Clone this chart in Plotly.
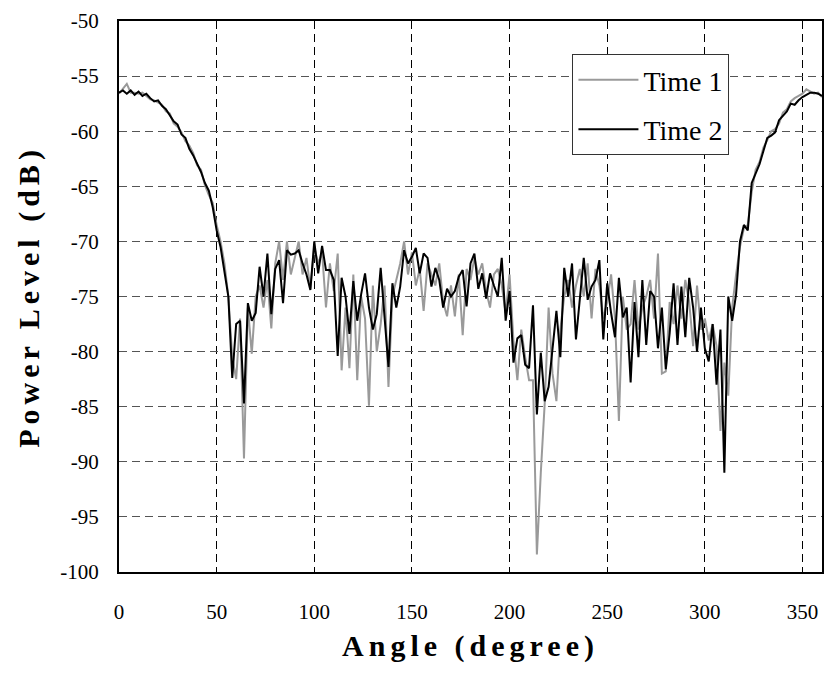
import plotly.graph_objects as go

angles = list(range(0, 361, 2))

time1 = [
    -56.6, -56.2, -55.7, -56.5, -56.5, -56.6, -56.5, -56.8, -57.1, -57.2,
    -57.4, -57.6, -58.2, -58.4, -59.3, -59.6, -60.1, -60.9, -61.3, -62.0,
    -63.1, -63.5, -64.9, -65.8, -66.5, -68.5, -70.0, -72.0, -75.0, -80.5,
    -82.5, -77.0, -89.7, -76.0, -80.2, -75.0, -74.0, -76.0, -73.5, -77.9,
    -72.0, -70.0, -73.5, -70.0, -73.0, -71.5, -70.0, -73.0, -71.5, -74.3,
    -70.5, -72.0, -71.0, -76.0, -72.0, -74.5, -71.1, -81.7, -76.0, -81.5,
    -73.0, -82.6, -75.0, -77.0, -84.9, -74.0, -80.0, -77.5, -74.0, -83.2,
    -75.0, -73.5, -72.0, -70.0, -73.0, -71.0, -74.0, -72.5, -76.3, -72.0,
    -73.0, -74.0, -72.0, -75.5, -76.8, -74.0, -76.8, -73.0, -78.5, -72.5,
    -73.5, -71.5, -73.0, -72.0, -74.5, -76.0, -73.0, -72.5, -74.0, -76.5,
    -73.0, -79.0, -82.6, -78.0, -80.5, -82.6, -82.6, -98.4, -91.0, -84.7,
    -76.0, -82.0, -84.5, -78.0, -75.0, -73.5, -76.0, -74.0, -72.5, -75.0,
    -72.0, -77.0, -72.5, -74.0, -77.0, -75.5, -73.0, -77.0, -86.3, -75.0,
    -78.0, -77.5, -73.5, -78.0, -76.0, -75.0, -73.5, -77.0, -71.1, -82.0,
    -81.8, -75.5, -77.5, -74.0, -77.0, -73.5, -75.5, -79.5, -74.0, -78.0,
    -77.0, -79.0, -77.5, -79.5, -87.2, -81.0, -84.0, -76.0, -73.0, -70.5,
    -68.8, -68.5, -65.5, -63.5, -62.8, -61.5, -60.8, -60.0, -59.8, -59.3,
    -58.3, -58.0, -57.3, -57.0, -56.8, -56.6, -56.2, -56.4, -56.6, -56.5,
    -56.9,
]

time2 = [
    -56.5, -56.3, -56.6, -56.3, -56.7, -56.4, -56.8, -56.6, -57.0, -57.3,
    -57.2, -57.7, -58.0, -58.5, -59.1, -59.4, -60.3, -60.6, -61.6, -62.2,
    -62.9, -63.7, -64.7, -65.4, -66.9, -69.0, -70.5, -72.6, -75.0, -82.4,
    -77.5, -77.2, -84.7, -75.6, -77.2, -76.5, -72.3, -75.0, -71.1, -76.6,
    -72.5, -71.7, -75.6, -70.8, -71.2, -71.1, -70.8, -72.0, -73.0, -74.4,
    -70.0, -72.9, -70.4, -72.6, -72.6, -73.5, -80.4, -73.3, -75.0, -78.4,
    -73.6, -77.2, -74.8, -72.9, -76.0, -78.0, -76.6, -72.4, -77.2, -81.4,
    -73.8, -76.0, -74.1, -70.8, -72.0, -71.4, -70.6, -72.9, -71.1, -71.5,
    -74.1, -72.4, -73.5, -76.0, -74.3, -75.0, -74.5, -73.2, -72.6, -75.9,
    -72.0, -71.1, -74.3, -72.9, -75.2, -72.9, -74.0, -75.0, -71.5, -77.2,
    -74.5, -81.0, -78.8, -78.5, -81.2, -81.5, -75.8, -85.7, -80.1, -84.5,
    -83.2, -80.0, -76.3, -80.5, -72.4, -75.0, -72.0, -78.9, -75.0, -71.5,
    -75.3, -74.1, -73.5, -71.7, -78.9, -73.8, -76.5, -78.7, -73.3, -76.9,
    -76.0, -82.8, -75.5, -80.5, -73.5, -79.4, -74.5, -75.0, -79.7, -76.0,
    -81.6, -78.3, -73.8, -79.4, -74.1, -78.7, -73.3, -76.0, -80.0, -76.0,
    -79.7, -80.9, -77.5, -83.0, -78.0, -91.0, -75.0, -77.2, -74.8, -70.0,
    -68.5, -69.0, -64.7, -63.8, -63.0, -61.8, -60.6, -60.4, -60.1, -59.0,
    -58.6, -58.2, -57.5, -57.6, -57.2, -56.9, -56.7, -56.5, -56.5, -56.6,
    -56.8,
]

x_ticks = [0, 50, 100, 150, 200, 250, 300, 350]
y_ticks = [-100, -95, -90, -85, -80, -75, -70, -65, -60, -55, -50]

FONT = "Liberation Serif"

fig = go.Figure()
fig.add_trace(go.Scatter(x=angles, y=time1, mode="lines", name="Time 1",
                         legendgroup="a",
                         line=dict(color="#9a9a9a", width=2)))
fig.add_trace(go.Scatter(x=angles, y=time2, mode="lines", name="Time 2",
                         legendgroup="b",
                         line=dict(color="#000000", width=2)))

fig.update_layout(
    width=829, height=680,
    margin=dict(l=119, r=5, t=21, b=108),
    paper_bgcolor="white", plot_bgcolor="white",
    font=dict(family=FONT, size=21, color="black"),
    showlegend=True,
    legend=dict(x=0.645, y=0.94, xanchor="left", yanchor="top",
                bgcolor="white", bordercolor="#333333", borderwidth=1,
                font=dict(family=FONT, size=28, color="black"),
                tracegroupgap=10, itemwidth=60),
    xaxis=dict(
        range=[0, 360], tickmode="array", tickvals=x_ticks,
        ticktext=[str(v) for v in x_ticks],
        showgrid=True, gridcolor="#000000", gridwidth=1, griddash="8px,5px",
        showline=True, linecolor="black", linewidth=2, mirror=True,
        ticks="", ticklabelstandoff=20, zeroline=False,
        tickfont=dict(family=FONT, size=21),
        title=dict(text="<b>Angle (degree)</b>", standoff=12,
                   font=dict(family=FONT, size=30)),
    ),
    yaxis=dict(
        range=[-100, -50], tickmode="array", tickvals=y_ticks,
        ticktext=[str(v) for v in y_ticks],
        showgrid=True, gridcolor="#555555", gridwidth=1, griddash="8px,5px",
        showline=True, linecolor="black", linewidth=2, mirror=True,
        ticks="", ticklabelstandoff=14, zeroline=False,
        tickfont=dict(family=FONT, size=21),
        title=dict(text="<b>Power Level (dB)</b>", standoff=12,
                   font=dict(family=FONT, size=30)),
    ),
)

post = """
document.body.style.margin='0';
document.body.style.overflow='hidden';
var gd=document.getElementById('{plot_id}');
function sp(){
  gd.querySelectorAll('.xtitle, .ytitle').forEach(function(t){t.style.letterSpacing='5px';});
}
sp();
if (gd.on) { gd.on('plotly_afterplot', sp); }
"""

fig.write_html("out.html", post_script=post,
               config={"displayModeBar": False})
